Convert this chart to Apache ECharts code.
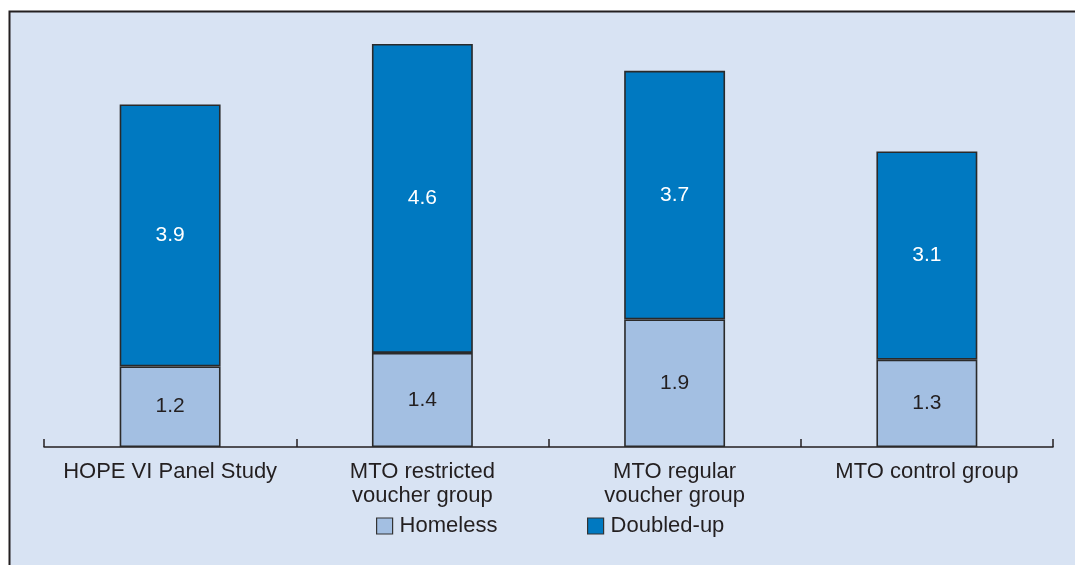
<!DOCTYPE html>
<html>
<head>
<meta charset="utf-8">
<script src="https://cdn.jsdelivr.net/npm/echarts@6/dist/echarts.min.js"></script>
<style>
html,body{margin:0;padding:0;background:#fff;}
#c{width:1075px;height:565px;}
</style>
</head>
<body>
<div id="c"></div>
<script>
var categories = ['HOPE VI Panel Study', 'MTO restricted\nvoucher group', 'MTO regular\nvoucher group', 'MTO control group'];
var homeless = [1.2, 1.4, 1.9, 1.3];
var doubledUp = [3.9, 4.6, 3.7, 3.1];
var seriesNames = ['Homeless', 'Doubled-up'];

var FONT = '"Liberation Sans", Arial, Helvetica, sans-serif';
var chart = echarts.init(document.getElementById('c'), null, {renderer: 'canvas'});
var option = {
  backgroundColor: '#ffffff',
  animation: false,
  graphic: [{
    type: 'rect',
    z: -10,
    silent: true,
    shape: {x: 9.5, y: 11.5, width: 1100, height: 600},
    style: {fill: '#d8e3f3', stroke: '#231f20', lineWidth: 2}
  }],
  grid: {left: 44, right: 22, top: 44, bottom: 118, containLabel: false},
  legend: [{
    data: [seriesNames[0]],
    left: 371, top: 510,
    icon: 'rect', itemWidth: 16, itemHeight: 16,
    itemStyle: {borderColor: '#333', borderWidth: 1.2},
    textStyle: {fontFamily: FONT, fontSize: 22, color: '#231f20', padding: [0, 0, 0, 2]}
  }, {
    data: [seriesNames[1]],
    left: 582, top: 510,
    icon: 'rect', itemWidth: 16, itemHeight: 16,
    itemStyle: {borderColor: '#333', borderWidth: 1.2},
    textStyle: {fontFamily: FONT, fontSize: 22, color: '#231f20', padding: [0, 0, 0, 2]}
  }],
  xAxis: {
    type: 'category',
    data: categories,
    axisLine: {show: true, lineStyle: {color: '#231f20', width: 1.5}},
    axisTick: {show: true, inside: true, length: 8, interval: 0, lineStyle: {color: '#231f20', width: 1.5}},
    axisLabel: {interval: 0, fontFamily: FONT, fontSize: 22, color: '#231f20', lineHeight: 24, margin: 13}
  },
  yAxis: {
    type: 'value', min: 0, max: 6,
    show: false,
    splitLine: {show: false}
  },
  series: [{
    name: seriesNames[0],
    type: 'bar',
    stack: 'total',
    data: homeless,
    barWidth: '40%',
    itemStyle: {color: '#a3bfe2', borderColor: '#2a2a2a', borderWidth: 1.6},
    label: {show: true, position: 'inside', fontFamily: FONT, fontSize: 21, color: '#231f20'}
  }, {
    name: seriesNames[1],
    type: 'bar',
    stack: 'total',
    data: doubledUp,
    barWidth: '40%',
    itemStyle: {color: '#0079c1', borderColor: '#2a2a2a', borderWidth: 1.6},
    label: {show: true, position: 'inside', fontFamily: FONT, fontSize: 21, color: '#ffffff'}
  }]
};
chart.setOption(option);
</script>
</body>
</html>
